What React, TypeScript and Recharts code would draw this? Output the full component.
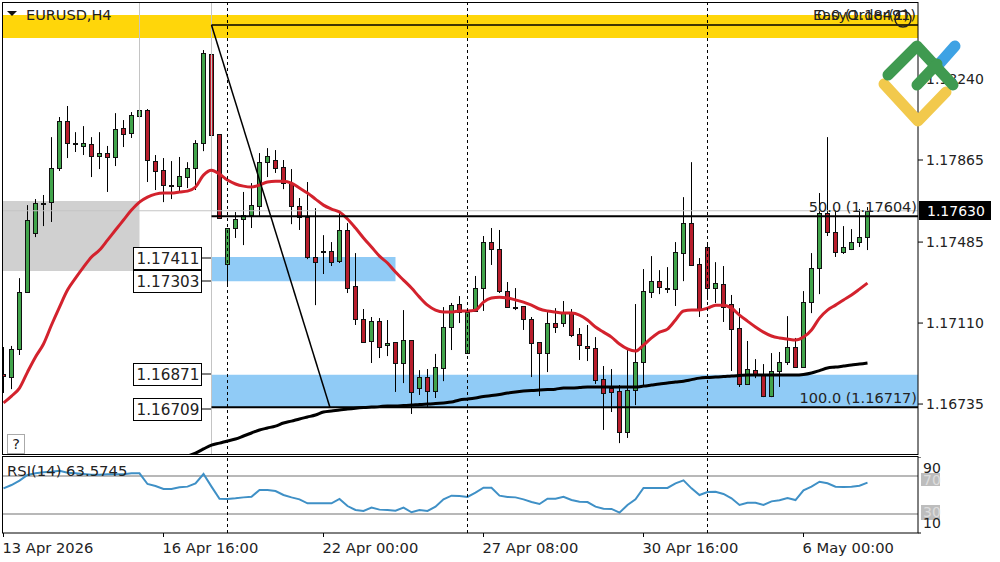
import { Bar, ComposedChart, Line, ReferenceArea, ReferenceLine, XAxis, YAxis } from 'recharts'

const opens = [
  1.16874, 1.1686, 1.1699, 1.17254, 1.17527, 1.17666, 1.1767, 1.17828, 1.18045, 1.17943,
  1.1793, 1.17939, 1.17883, 1.17897, 1.17879, 1.18013, 1.1799, 1.18068, 1.18096, 1.1786,
  1.17818, 1.17749, 1.17744, 1.17786, 1.17828, 1.17943, 1.18356, 1.17985, 1.17383, 1.1755,
  1.17592, 1.1761, 1.17652, 1.17855, 1.17865, 1.17832, 1.17758, 1.17652, 1.17601, 1.17416,
  1.17443, 1.17443, 1.17397, 1.17541, 1.17281, 1.17129, 1.17027, 1.17119, 1.17008, 1.17022,
  1.16925, 1.17031, 1.16809, 1.1686, 1.16795, 1.16902, 1.17092, 1.17198, 1.16971, 1.17166,
  1.17272, 1.17485, 1.17453, 1.17258, 1.17184, 1.17189, 1.17129, 1.17022, 1.16971, 1.1711,
  1.1711, 1.17156, 1.17059, 1.17004, 1.16994, 1.16851, 1.16809, 1.16795, 1.16605, 1.168,
  1.16929, 1.17254, 1.17304, 1.17272, 1.17267, 1.17434, 1.17573, 1.17383, 1.17462, 1.17272,
  1.17291, 1.17198, 1.17087, 1.16828, 1.16892, 1.16869, 1.16772, 1.16888, 1.16929, 1.16999,
  1.16906, 1.17207, 1.17365, 1.17619, 1.17531, 1.17439, 1.17453, 1.17485, 1.17508,
]
const highs = [
  1.16999, 1.17004, 1.17318, 1.17656, 1.17684, 1.17703, 1.17971, 1.18064, 1.18115, 1.17994,
  1.18022, 1.17971, 1.17994, 1.1793, 1.18082, 1.1805, 1.18087, 1.1824, 1.18101, 1.17888,
  1.17874, 1.1786, 1.17879, 1.17855, 1.17957, 1.18374, 1.1849, 1.17985, 1.1755, 1.17624,
  1.17717, 1.17758, 1.17897, 1.1792, 1.17911, 1.17865, 1.17823, 1.17689, 1.17763, 1.17642,
  1.17517, 1.17485, 1.17624, 1.17573, 1.17434, 1.17175, 1.17138, 1.17133, 1.17124, 1.17022,
  1.1717, 1.17031, 1.16892, 1.16897, 1.16967, 1.17184, 1.17203, 1.17235, 1.17161, 1.17328,
  1.17513, 1.1755, 1.17541, 1.173, 1.17272, 1.17189, 1.17138, 1.17022, 1.17161, 1.17179,
  1.17212, 1.17175, 1.17087, 1.17101, 1.17045, 1.16911, 1.16897, 1.16823, 1.16985, 1.17198,
  1.1736, 1.1742, 1.17355, 1.17369, 1.17485, 1.17693, 1.17855, 1.17411, 1.1748, 1.17392,
  1.17374, 1.1724, 1.17179, 1.17027, 1.16943, 1.1692, 1.16971, 1.16976, 1.17142, 1.17041,
  1.17258, 1.17434, 1.17712, 1.17971, 1.17633, 1.17559, 1.17545, 1.17638, 1.17647,
]
const lows = [
  1.16786, 1.16804, 1.16962, 1.17254, 1.17508, 1.17559, 1.17578, 1.17814, 1.17874, 1.17902,
  1.17888, 1.17786, 1.17823, 1.17717, 1.17837, 1.17925, 1.17967, 1.17971, 1.17763, 1.17726,
  1.1767, 1.17684, 1.17717, 1.17735, 1.17726, 1.17906, 1.17916, 1.17596, 1.17277, 1.17504,
  1.17471, 1.1755, 1.17605, 1.17786, 1.17805, 1.1773, 1.17568, 1.17541, 1.17406, 1.17193,
  1.17337, 1.17374, 1.17388, 1.17249, 1.17101, 1.17022, 1.16925, 1.16948, 1.16957, 1.16791,
  1.16832, 1.16689, 1.16777, 1.16721, 1.16763, 1.16841, 1.16985, 1.1711, 1.16971, 1.17166,
  1.17166, 1.17379, 1.17249, 1.17184, 1.1717, 1.17078, 1.1686, 1.16772, 1.16883, 1.17064,
  1.17092, 1.17045, 1.16939, 1.16934, 1.16828, 1.16615, 1.16698, 1.16554, 1.16578, 1.1673,
  1.16823, 1.17226, 1.17244, 1.17249, 1.17189, 1.17304, 1.17379, 1.17138, 1.17217, 1.17203,
  1.17115, 1.16888, 1.16814, 1.16823, 1.16855, 1.16767, 1.16767, 1.16814, 1.16916, 1.16906,
  1.16906, 1.17156, 1.17244, 1.17513, 1.17416, 1.1743, 1.17448, 1.17462, 1.17448,
]
const closes = [
  1.16865, 1.1699, 1.17254, 1.17587, 1.17666, 1.17661, 1.17828, 1.18045, 1.17943, 1.17939,
  1.17943, 1.17883, 1.17897, 1.17879, 1.18008, 1.17985, 1.18073, 1.18096, 1.17865, 1.17814,
  1.17749, 1.17744, 1.17791, 1.17828, 1.17943, 1.1836, 1.1798, 1.17596, 1.1755, 1.17592,
  1.1761, 1.17656, 1.17855, 1.17883, 1.17828, 1.17758, 1.17652, 1.17601, 1.17416, 1.17392,
  1.17439, 1.17392, 1.17541, 1.17272, 1.17129, 1.17022, 1.17119, 1.16999, 1.17017, 1.16925,
  1.17031, 1.16791, 1.1686, 1.16795, 1.16906, 1.17092, 1.17193, 1.17161, 1.17161, 1.17272,
  1.17485, 1.17453, 1.17258, 1.17184, 1.17179, 1.17129, 1.17017, 1.16971, 1.1711, 1.17092,
  1.17156, 1.17054, 1.17008, 1.16994, 1.16846, 1.16786, 1.16791, 1.16605, 1.168, 1.16929,
  1.17258, 1.17304, 1.17277, 1.17267, 1.17439, 1.17573, 1.17379, 1.1717, 1.17272, 1.17295,
  1.17184, 1.17082, 1.16828, 1.16897, 1.16869, 1.16772, 1.16888, 1.16929, 1.16999, 1.16906,
  1.17207, 1.17365, 1.17619, 1.17531, 1.17439, 1.17462, 1.17485, 1.17508, 1.17629,
]
const fastMa = [
  1.1674, 1.16772, 1.16809, 1.16883, 1.16953, 1.17013, 1.17101, 1.17184, 1.17263, 1.17318,
  1.17369, 1.17416, 1.17448, 1.17494, 1.17541, 1.17587, 1.17633, 1.1767, 1.17693, 1.17707,
  1.17712, 1.17712, 1.17717, 1.17721, 1.1774, 1.17795, 1.17818, 1.178, 1.17772, 1.17754,
  1.17744, 1.1774, 1.17749, 1.17763, 1.17767, 1.17767, 1.17758, 1.17735, 1.17712, 1.17684,
  1.17656, 1.17638, 1.17624, 1.17592, 1.1755, 1.17504, 1.17462, 1.1742, 1.17388, 1.17346,
  1.17309, 1.17272, 1.1723, 1.17193, 1.1717, 1.17161, 1.17161, 1.17166, 1.17166, 1.1717,
  1.17207, 1.17226, 1.1723, 1.17226, 1.17217, 1.17207, 1.17193, 1.17175, 1.17166, 1.17161,
  1.17156, 1.17156, 1.17147, 1.17124, 1.17092, 1.17068, 1.17045, 1.17013, 1.1699, 1.1698,
  1.17008, 1.17041, 1.17068, 1.17082, 1.17124, 1.17166, 1.1717, 1.1717, 1.17179, 1.17193,
  1.17193, 1.17179, 1.17147, 1.17119, 1.17092, 1.17068, 1.1705, 1.17041, 1.17036, 1.17031,
  1.17045, 1.17078, 1.17133, 1.1717, 1.17193, 1.17217, 1.1724, 1.17267, 1.17295,
]
// the slow average only comes into view at the bottom of the panel from candle 23 on
const slowMa = [
  null, null, null, null, null, null, null, null, null, null,
  null, null, null, null, null, null, null, null, null, null,
  null, null, null, 1.16494, 1.16508, 1.16527, 1.16545, 1.16554, 1.16564, 1.16573,
  1.16587, 1.16601, 1.16615, 1.16624, 1.16633, 1.16647, 1.16656, 1.16666, 1.16675, 1.16684,
  1.16698, 1.16703, 1.16707, 1.16712, 1.16716, 1.16719, 1.16721, 1.16723, 1.16726, 1.16726,
  1.16728, 1.1673, 1.16733, 1.16735, 1.16737, 1.1674, 1.16744, 1.16754, 1.16758, 1.16763,
  1.1677, 1.16774, 1.16779, 1.16786, 1.16791, 1.16795, 1.16798, 1.168, 1.16802, 1.16804,
  1.16809, 1.16809, 1.16811, 1.16814, 1.16814, 1.16814, 1.16814, 1.16814, 1.16814, 1.16814,
  1.16818, 1.16823, 1.16828, 1.16832, 1.16837, 1.16841, 1.16848, 1.16855, 1.16858, 1.1686,
  1.16862, 1.16865, 1.16867, 1.16869, 1.16869, 1.16869, 1.16869, 1.16869, 1.16869, 1.16869,
  1.16872, 1.16879, 1.1689, 1.16902, 1.16906, 1.16911, 1.16916, 1.1692, 1.16925,
]
const rsi = [
  57.0, 60.5, 65.1, 71.1, 72.8, 73.9, 74.6, 75.6, 73.5, 72.8,
  72.1, 71.4, 71.4, 71.8, 71.8, 71.8, 72.8, 72.8, 61.6, 59.5,
  56.3, 56.3, 58.1, 58.8, 62.3, 72.1, 58.8, 46.1, 45.8, 46.5,
  47.5, 48.2, 55.3, 55.3, 54.2, 50.0, 47.5, 45.4, 41.2, 41.2,
  41.2, 41.2, 45.8, 38.4, 34.2, 33.2, 36.7, 34.6, 34.2, 33.5,
  36.7, 31.8, 34.2, 33.2, 37.7, 45.4, 49.3, 48.9, 47.9, 52.5,
  57.7, 57.7, 49.3, 47.9, 47.5, 45.4, 42.6, 40.5, 46.1, 46.1,
  48.2, 44.7, 43.0, 42.6, 37.7, 35.6, 35.3, 31.4, 39.5, 45.4,
  57.4, 57.4, 57.4, 57.4, 62.3, 65.4, 57.0, 50.0, 53.2, 53.5,
  51.1, 46.5, 39.5, 41.9, 41.9, 39.5, 43.3, 44.4, 46.8, 44.7,
  54.9, 58.8, 64.0, 62.3, 58.8, 58.4, 58.8, 59.8, 63.0,
]

const priceTicks = [1.1824, 1.17865, 1.17485, 1.1711, 1.16735]
const rsiTicks = [90, 70, 30, 10]
const timeTicks = [0, 20, 40, 60, 80, 100]
const timeLabels = ['13 Apr 2026', '16 Apr 16:00', '22 Apr 00:00', '27 Apr 08:00', '30 Apr 16:00', '6 May 00:00']
const sessionLines = [28, 58, 88]

const rows = opens.map((open, i) => ({
  i,
  open,
  high: highs[i],
  low: lows[i],
  close: closes[i],
  range: [lows[i], highs[i]],
  fastMa: fastMa[i],
  slowMa: slowMa[i],
  rsi: rsi[i],
}))

const FONT = '"DejaVu Sans", sans-serif'
const INK = '#222'
const X_DOMAIN = [-0.0625, 114.3125]
const PRICE_DOMAIN = [1.16499, 1.18592]

function Candle(props: any) {
  const { x, y, width, height, payload } = props
  const { open, close, high, low } = payload
  const perUnit = height / (high - low)
  const yOf = (v: number) => y + (high - v) * perUnit
  const cx = Math.floor(x + width / 2) + 0.5
  const top = Math.round(yOf(Math.max(open, close)))
  const bottom = Math.round(yOf(Math.min(open, close)))
  const up = close >= open
  return (
    <g>
      <line x1={cx} x2={cx} y1={y} y2={y + height} stroke="#000" strokeWidth={1} />
      <rect
        x={cx - 2}
        y={top + 0.5}
        width={4}
        height={Math.max(bottom - top, 1)}
        fill={up ? '#41a44b' : '#b81d2c'}
        stroke="#111"
        strokeWidth={1}
      />
    </g>
  )
}

function RsiTick(props: any) {
  const { x, y, payload } = props
  const v = payload.value
  if (v === 70 || v === 30) {
    return (
      <g>
        <rect x={x + 3} y={y - (v === 70 ? 3 : 9)} width={19} height={v === 70 ? 13 : 15} fill="#bdbdbd" />
        <text x={x + 5} y={y + (v === 70 ? 4 : -2)} fill="#ddd" fontSize={14} fontFamily={FONT} dominantBaseline="central">
          {v}
        </text>
      </g>
    )
  }
  return (
    <g>
      <line x1={x} x2={x + 3} y1={y} y2={y} stroke="#000" />
      <text x={x + 5} y={y + (v === 90 ? 11 : -10)} fill={INK} fontSize={14} fontFamily={FONT} dominantBaseline="central">
        {v}
      </text>
    </g>
  )
}

function TimeTick(props: any) {
  const { x, y, payload } = props
  return (
    <g>
      <line x1={x} x2={x} y1={y - 8} y2={y - 4} stroke="#000" />
      <text x={x - 1} y={y + 6} fill={INK} fontSize={14.7} fontFamily={FONT} dominantBaseline="central">
        {timeLabels[timeTicks.indexOf(payload.value)]}
      </text>
    </g>
  )
}

function PriceBox({ y, label, lineY }: { y: number; label: string; lineY: number }) {
  return (
    <g>
      <line x1={202} x2={211} y1={lineY} y2={lineY} stroke="#000" />
      <rect x={133.5} y={y + 0.5} width={68} height={22} fill="#fff" stroke="#000" />
      <text x={168} y={y + 12} textAnchor="middle" dominantBaseline="central" fontSize={15.2} fontFamily={FONT} fill={INK}>
        {label}
      </text>
    </g>
  )
}

function Overlay() {
  const text = { fontSize: 14.5, fontFamily: FONT, fill: INK, dominantBaseline: 'central' as const }
  return (
    <svg width={1000} height={562} style={{ position: 'absolute', left: 0, top: 0, pointerEvents: 'none' }}>
      <rect x={2.5} y={2.5} width={915.5} height={452} fill="none" stroke="#000" />
      <rect x={2.5} y={456.5} width={915.5} height={76.5} fill="none" stroke="#000" />
      <path d="M7 11 L17 11 L12 16 Z" fill="#111" />
      <text x={26} y={15} {...text}>EURUSD,H4</text>
      <text x={916} y={15} textAnchor="end" {...text}>0.0 (1.18491)</text>
      <text x={813} y={15} {...text}>EasyOrder(1)</text>
      <circle cx={903} cy={19} r={8} fill="none" stroke="#222" strokeWidth={1.5} />
      <text x={917} y={207} textAnchor="end" {...text}>50.0 (1.17604)</text>
      <text x={917} y={398} textAnchor="end" {...text}>100.0 (1.16717)</text>
      <PriceBox y={247} label="1.17411" lineY={258} />
      <PriceBox y={270} label="1.17303" lineY={281} />
      <PriceBox y={363} label="1.16871" lineY={374} />
      <PriceBox y={398} label="1.16709" lineY={409} />
      <rect x={7.5} y={434.5} width={17} height={19} fill="#fff" stroke="#aaa" />
      <text x={16} y={444} textAnchor="middle" {...text}>?</text>
      <text x={7} y={470} {...text} fontSize={14.8}>RSI(14) 63.5745</text>
      <rect x={919} y={201} width={72} height={19} fill="#000" />
      <text x={927} y={211} {...text} fontSize={14} fill="#fff">1.17630</text>
      <g fill="none" strokeWidth={11} strokeLinecap="round" strokeLinejoin="round">
        <path d="M940 63 L955 46" stroke="#3ea2e4" />
        <path d="M884 84 L918 121 L946 92" stroke="#f2c94c" />
        <path d="M888 75 L917 46 L953 85" stroke="#3f9a50" />
        <path d="M917 85 L937 64" stroke="#3f9a50" />
      </g>
    </svg>
  )
}

export default function App() {
  return (
    <div style={{ position: 'fixed', left: 0, top: 0, width: 1000, height: 562, background: '#fff', overflow: 'hidden' }}>
      <div style={{ position: 'absolute', left: 0, top: 0 }}>
        <ComposedChart width={1000} height={456} data={rows} margin={{ top: 3, right: 0, bottom: 1, left: 3 }}>
          <XAxis dataKey="i" type="number" domain={X_DOMAIN} allowDataOverflow hide />
          <YAxis
            orientation="right"
            width={82}
            domain={PRICE_DOMAIN}
            allowDataOverflow
            ticks={priceTicks}
            interval={0}
            axisLine={false}
            tickSize={5}
            tickMargin={3}
            tickLine={{ stroke: '#000' }}
            tick={{ fill: INK, fontSize: 14, fontFamily: FONT }}
            tickFormatter={(v: number) => v.toFixed(5)}
          />
          <ReferenceArea x1={X_DOMAIN[0]} x2={X_DOMAIN[1]} y1={1.1843} y2={1.18536} fill="#ffd60a" fillOpacity={1} stroke="none" />
          <ReferenceArea x1={X_DOMAIN[0]} x2={17} y1={1.17351} y2={1.17675} fill="#d0d0d0" fillOpacity={1} stroke="none" />
          <ReferenceArea x1={26} x2={49} y1={1.17304} y2={1.17416} fill="#90cbf6" fillOpacity={1} stroke="none" />
          <ReferenceArea x1={26} x2={X_DOMAIN[1]} y1={1.1672} y2={1.16871} fill="#90cbf6" fillOpacity={1} stroke="none" />
          <ReferenceLine y={1.1763} stroke="#c4c4c4" strokeWidth={1} />
          <ReferenceLine segment={[{ x: 17, y: PRICE_DOMAIN[1] }, { x: 17, y: 1.17675 }]} stroke="#c4c4c4" strokeWidth={1} />
          <ReferenceLine x={26} stroke="#c4c4c4" strokeWidth={1} />
          <Bar dataKey="range" barSize={5} shape={<Candle />} isAnimationActive={false} />
          <Line type="monotone" dataKey="fastMa" stroke="#d3222d" strokeWidth={3} dot={false} isAnimationActive={false} />
          <Line type="monotone" dataKey="slowMa" stroke="#000" strokeWidth={3} dot={false} isAnimationActive={false} />
          {sessionLines.map((i) => (
            <ReferenceLine key={i} x={i} stroke="#000" strokeDasharray="3 3" strokeWidth={1} />
          ))}
          <ReferenceLine segment={[{ x: 26, y: 1.1849 }, { x: X_DOMAIN[1], y: 1.1849 }]} stroke="#000" strokeWidth={1.5} />
          <ReferenceLine segment={[{ x: 26, y: 1.17604 }, { x: X_DOMAIN[1], y: 1.17604 }]} stroke="#000" strokeWidth={2} />
          <ReferenceLine segment={[{ x: 26, y: 1.1672 }, { x: X_DOMAIN[1], y: 1.1672 }]} stroke="#000" strokeWidth={2} />
          <ReferenceLine segment={[{ x: 26, y: 1.1849 }, { x: 40.8, y: 1.1672 }]} stroke="#000" strokeWidth={1.5} />
        </ComposedChart>
      </div>
      <div style={{ position: 'absolute', left: 0, top: 457 }}>
        <ComposedChart width={1000} height={105} data={rows} margin={{ top: 0, right: 0, bottom: 0, left: 3 }}>
          <XAxis
            dataKey="i"
            type="number"
            domain={X_DOMAIN}
            allowDataOverflow
            height={29}
            ticks={timeTicks}
            interval={0}
            axisLine={false}
            tickLine={false}
            tick={<TimeTick />}
          />
          <YAxis
            orientation="right"
            width={82}
            domain={[10, 90]}
            ticks={rsiTicks}
            interval={0}
            axisLine={false}
            tickLine={false}
            tickSize={0}
            tickMargin={0}
            tick={<RsiTick />}
          />
          <ReferenceLine y={70} stroke="#b8b8b8" strokeWidth={2} />
          <ReferenceLine y={30} stroke="#b8b8b8" strokeWidth={2} />
          <Line dataKey="rsi" stroke="#3f90c6" strokeWidth={2} dot={false} isAnimationActive={false} />
          {sessionLines.map((i) => (
            <ReferenceLine key={i} x={i} stroke="#000" strokeDasharray="3 3" strokeWidth={1} />
          ))}
        </ComposedChart>
      </div>
      <Overlay />
    </div>
  )
}
